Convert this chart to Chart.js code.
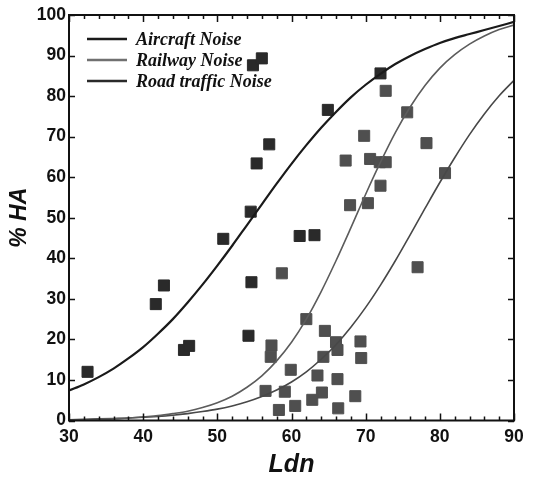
<!DOCTYPE html>
<html><head><meta charset="utf-8">
<script src="https://cdn.jsdelivr.net/npm/chart.js@4.4.1/dist/chart.umd.min.js"></script>
<style>html,body{margin:0;padding:0;background:#fff}</style>
</head><body>
<canvas id="c" width="535" height="480"></canvas>
<script>
// Curve abscissae (Ldn) and fitted curve values
const ldnGrid = [30,32,34,36,38,40,42,44,46,48,50,52,54,56,58,60,62,64,66,68,70,72,74,76,78,80,82,84,86,88,90];
const aircraftCurve = [7.4,8.9,10.7,12.8,15.3,18.1,21.4,25.0,29.1,33.5,38.2,43.1,48.2,53.3,58.4,63.3,67.9,72.2,76.1,79.7,82.8,85.5,87.9,89.9,91.6,93.1,94.3,95.3,96.3,97.3,98.3];
const railwayCurve = [0.2,0.2,0.3,0.4,0.6,0.9,1.2,1.7,2.3,3.2,4.4,6.0,8.2,11.0,14.7,19.3,25.0,31.8,39.4,47.5,55.8,63.7,71.0,77.3,82.6,86.9,90.2,92.8,94.8,96.4,97.5];
const roadCurve = [0.2,0.3,0.4,0.5,0.6,0.8,1.0,1.3,1.7,2.2,2.8,3.6,4.6,5.9,7.5,9.5,12.0,15.1,18.7,23.0,27.9,33.4,39.4,45.8,52.3,58.7,64.8,70.5,75.6,80.1,83.9];

// Observed survey points (dark squares)
const darkLdn = [32.5,41.7,42.8,45.5,46.2,50.8,54.5,54.6,54.2,55.3,57.0,64.9,54.8,56.0,72.0,61.1,63.1];
const darkHA  = [12.0,28.7,33.3,17.4,18.4,44.8,51.5,34.1,20.9,63.4,68.1,76.6,87.6,89.3,85.6,45.5,45.7];
// Observed survey points (grey squares)
const greyLdn = [58.7,62.0,64.5,66.0,66.2,69.3,69.4,57.3,57.2,64.3,59.9,63.5,66.2,56.5,59.1,64.1,62.8,68.6,58.3,60.5,66.3,67.9,70.3,72.7,75.6,69.8,78.2,67.3,70.6,71.9,72.7,72.0,80.7,77.0];
const greyHA  = [36.3,25.0,22.1,19.3,17.4,19.5,15.4,18.5,15.7,15.7,12.5,11.1,10.2,7.3,7.1,6.9,5.1,6.0,2.6,3.6,3.0,53.1,53.6,81.3,76.0,70.2,68.4,64.1,64.5,63.7,63.7,57.9,61.0,37.8];

const seriesNames = ['Aircraft Noise','Railway Noise','Road traffic Noise'];
const xTicks = [30,40,50,60,70,80,90];
const yTicks = [0,10,20,30,40,50,60,70,80,90,100];

const pts = (xs, ys) => xs.map((x,i)=>({x, y: ys[i]}));

const frameTicks = {
  id:'frameTicks',
  afterDatasetsDraw(chart){
    const {ctx, chartArea:a, scales:{x, y}} = chart;
    ctx.save();
    ctx.strokeStyle = '#111';
    ctx.lineWidth = 1.5;
    for (let v = 30; v <= 90; v += 2) {
      const px = Math.round(x.getPixelForValue(v)) + 0.5;
      const len = (v % 10 === 0) ? 7 : 4;
      ctx.beginPath();
      ctx.moveTo(px, a.bottom); ctx.lineTo(px, a.bottom - len);
      ctx.moveTo(px, a.top); ctx.lineTo(px, a.top + len);
      ctx.stroke();
    }
    for (const v of yTicks) {
      const py = Math.round(y.getPixelForValue(v)) + 0.5;
      ctx.beginPath();
      ctx.moveTo(a.left, py); ctx.lineTo(a.left + 6, py);
      ctx.moveTo(a.right, py); ctx.lineTo(a.right - 6, py);
      ctx.stroke();
    }
    ctx.lineWidth = 2;
    ctx.strokeRect(a.left, a.top, a.right - a.left, a.bottom - a.top);
    // legend inside plot area
    ctx.font = 'italic bold 18px "Liberation Serif"';
    ctx.textBaseline = 'middle';
    ctx.textAlign = 'left';
    for (let i = 0; i < 3; i++) {
      const ds = chart.data.datasets[i];
      const ly = a.top + 24 + i * 21;
      ctx.strokeStyle = ds.legendColor;
      ctx.lineWidth = 2.5;
      ctx.beginPath();
      ctx.moveTo(a.left + 18, ly); ctx.lineTo(a.left + 58, ly);
      ctx.stroke();
      ctx.fillStyle = '#111';
      ctx.fillText(ds.label, a.left + 67, ly + 1);
    }
    ctx.restore();
  }
};

new Chart(document.getElementById('c'), {
  type: 'scatter',
  data: {
    datasets: [
      {label: seriesNames[0], type:'line', data: pts(ldnGrid, aircraftCurve), borderColor:'#1a1a1a', legendColor:'#1a1a1a', borderWidth:2.2, pointRadius:0, cubicInterpolationMode:'monotone', order:0},
      {label: seriesNames[1], type:'line', data: pts(ldnGrid, railwayCurve), borderColor:'#5c5c5c', legendColor:'#707070', borderWidth:1.6, pointRadius:0, cubicInterpolationMode:'monotone', order:0},
      {label: seriesNames[2], type:'line', data: pts(ldnGrid, roadCurve), borderColor:'#484848', legendColor:'#2a2a2a', borderWidth:1.6, pointRadius:0, cubicInterpolationMode:'monotone', order:0},
      {label:'dark', data: pts(darkLdn, darkHA), pointStyle:'rect', pointRadius:7.8, backgroundColor:'#2a2a2a', borderColor:'#2a2a2a', borderWidth:1, order:2},
      {label:'grey', data: pts(greyLdn, greyHA), pointStyle:'rect', pointRadius:7.8, backgroundColor:'#4f4f4f', borderColor:'#4f4f4f', borderWidth:1, order:1}
    ]
  },
  options: {
    responsive:false, animation:false,
    layout:{padding:{top:15, right:21, bottom:0, left:0}},
    plugins:{legend:{display:false}, tooltip:{enabled:false}},
    scales:{
      x:{type:'linear', min:30, max:90,
         afterBuildTicks(s){ s.ticks = xTicks.map(v=>({value:v})); },
         afterFit(s){ s.height = 59.5; },
         grid:{display:false, drawTicks:false}, border:{display:false},
         ticks:{font:{family:'"Liberation Sans"', weight:'bold', size:17.5}, color:'#111', padding:6, maxRotation:0, autoSkip:false},
         title:{display:true, text:'Ldn', font:{family:'"Liberation Sans"', weight:'bold', style:'italic', size:25, lineHeight:1.2}, color:'#111', padding:{top:0,bottom:0}}
      },
      y:{type:'linear', min:0, max:100,
         afterBuildTicks(s){ s.ticks = yTicks.map(v=>({value:v})); },
         afterFit(s){ s.width = 69; },
         grid:{display:false, drawTicks:false}, border:{display:false},
         ticks:{font:{family:'"Liberation Sans"', weight:'bold', size:17.5}, color:'#111', padding:3, autoSkip:false},
         title:{display:true, text:'% HA', font:{family:'"Liberation Sans"', weight:'bold', style:'italic', size:23, lineHeight:1.2}, color:'#111', padding:{top:6,bottom:0}}
      }
    }
  },
  plugins:[frameTicks]
});
</script>
</body></html>
